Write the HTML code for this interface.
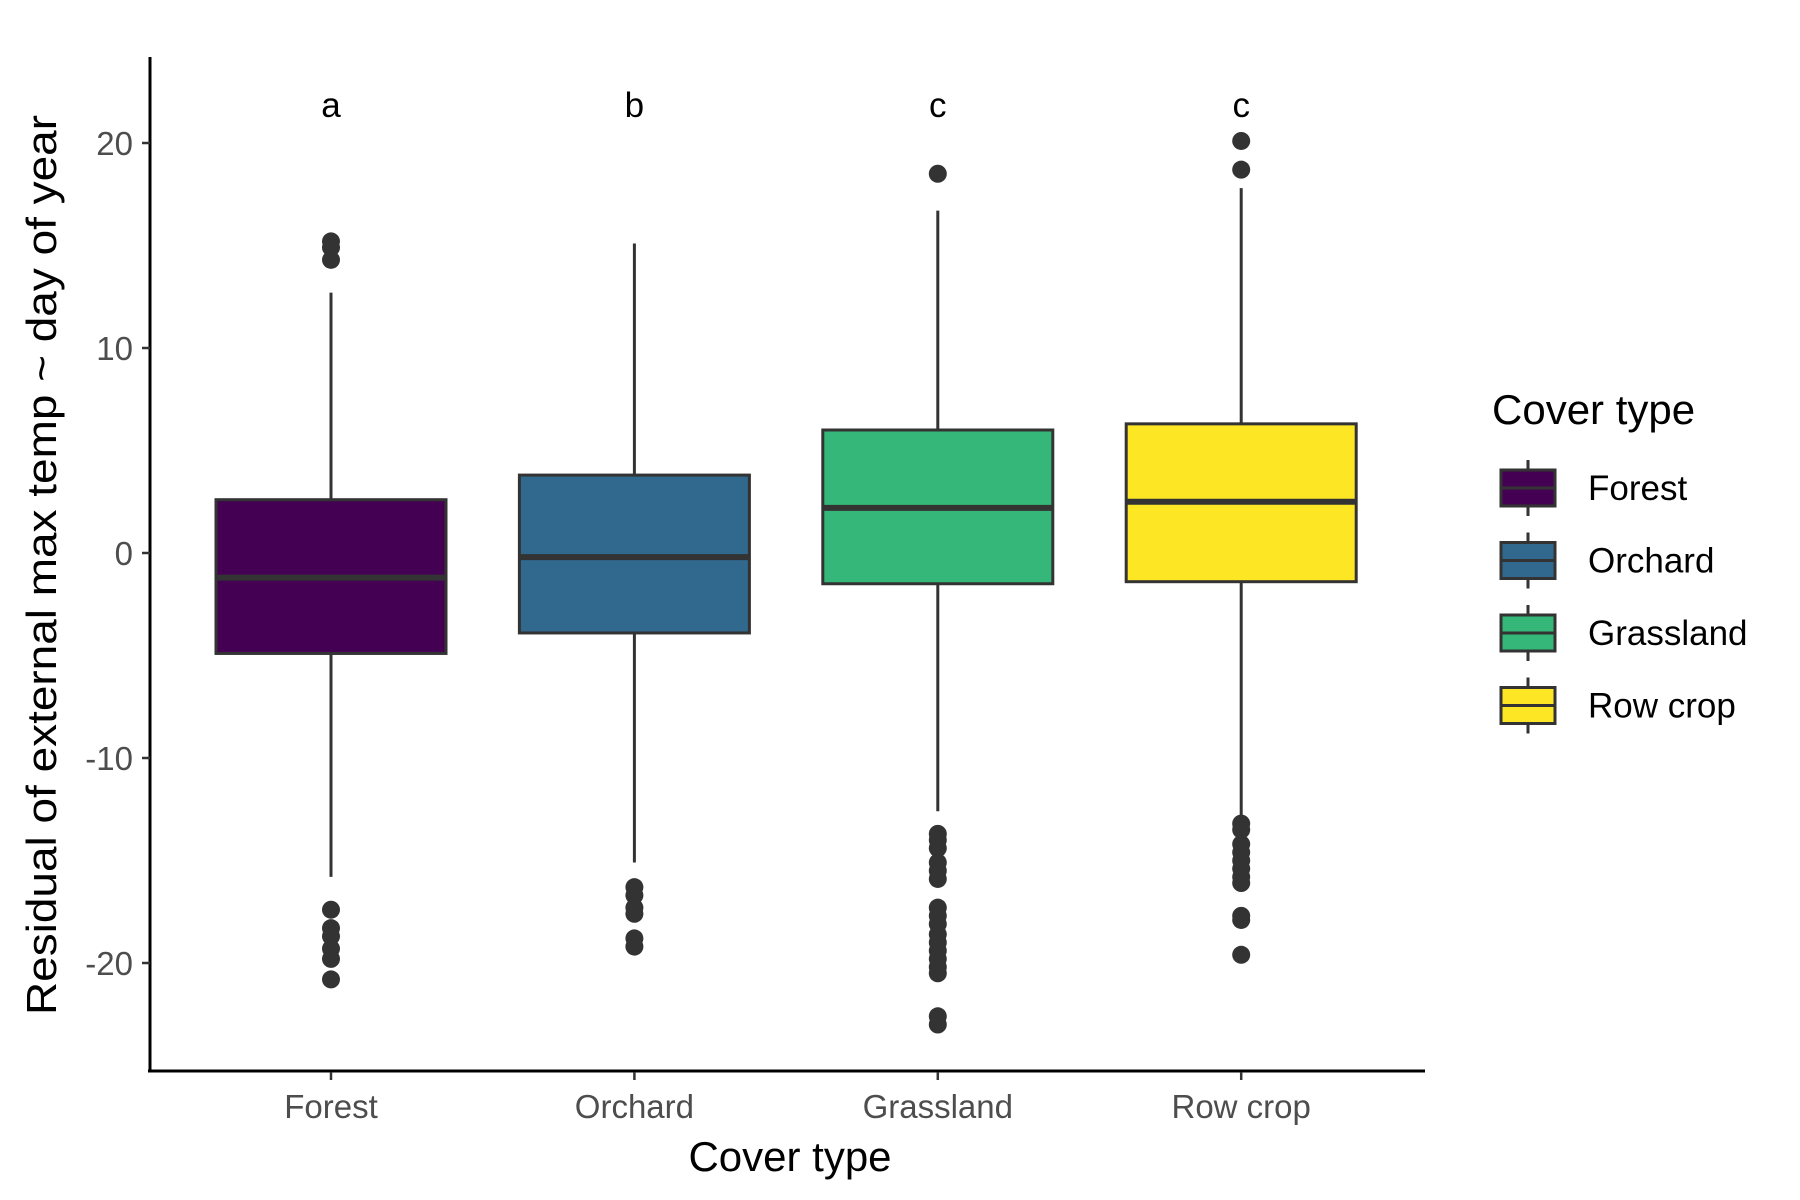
<!DOCTYPE html>
<html><head><meta charset="utf-8"><style>
body{margin:0;background:#fff}
svg{display:block;font-family:"Liberation Sans",Arial,sans-serif}
</style></head><body>
<svg id="chart" width="1800" height="1200" viewBox="0 0 1800 1200"></svg>
<script>
const categories=["Forest","Orchard","Grassland","Row crop"];
const colors=["#440154","#31688E","#35B779","#FDE725"];
const q1=[-4.9,-3.9,-1.5,-1.4];
const medians=[-1.2,-0.2,2.2,2.5];
const q3=[2.6,3.8,6.0,6.3];
const whiskerLow=[-15.8,-15.1,-12.6,-13.0];
const whiskerHigh=[12.7,15.1,16.7,17.8];
const outliers=[
 [14.3,14.9,15.2,-17.4,-18.3,-18.7,-19.3,-19.8,-20.8],
 [-16.3,-16.7,-17.3,-17.6,-18.8,-19.2],
 [18.5,-13.7,-14.0,-14.4,-15.1,-15.5,-15.9,-17.3,-17.7,-18.1,-18.6,-19.0,-19.4,-19.8,-20.2,-20.5,-22.6,-23.0],
 [20.1,18.7,-13.2,-13.5,-14.2,-14.6,-15.0,-15.4,-15.8,-16.1,-17.7,-17.9,-19.6]
];
const letters=["a","b","c","c"];
const yTicks=[-20,-10,0,10,20];

const svg=document.getElementById('chart');
const NS='http://www.w3.org/2000/svg';
function mk(tag,attrs,parent){const e=document.createElementNS(NS,tag);for(const k in attrs)e.setAttribute(k,attrs[k]);(parent||svg).appendChild(e);return e;}
const y=v=>553-v*20.5;
const x=i=>331+i*303.4;
const boxW=230;

const ax=mk('line',{x1:150,y1:57,x2:150,y2:1072,stroke:'#000','stroke-width':3});


const bx=mk('line',{x1:148,y1:1071,x2:1425,y2:1071,stroke:'#000','stroke-width':3});



yTicks.forEach(t=>{
 const l=mk('line',{x1:142,y1:y(t),x2:150,y2:y(t),stroke:'#333','stroke-width':2.5});
 
 
 const tx=mk('text',{x:133,y:y(t)+12,'text-anchor':'end','font-size':33,fill:'#4d4d4d'});
 tx.textContent=t;
 
 
});

categories.forEach((c,i)=>{
 const cx=x(i);
 const g=mk('g',{});
 
 
 mk('line',{x1:cx,y1:y(whiskerHigh[i]),x2:cx,y2:y(q3[i]),stroke:'#333','stroke-width':3},g);
 mk('line',{x1:cx,y1:y(q1[i]),x2:cx,y2:y(whiskerLow[i]),stroke:'#333','stroke-width':3},g);
 mk('rect',{x:cx-boxW/2,y:y(q3[i]),width:boxW,height:y(q1[i])-y(q3[i]),fill:colors[i],stroke:'#333','stroke-width':3},g);
 mk('line',{x1:cx-boxW/2,y1:y(medians[i]),x2:cx+boxW/2,y2:y(medians[i]),stroke:'#333','stroke-width':6},g);
 outliers[i].forEach(v=>{
  const p=mk('circle',{cx:cx,cy:y(v),r:9,fill:'#333'},g);
  
  
 });
 const tk=mk('line',{x1:cx,y1:1072,x2:cx,y2:1080,stroke:'#333','stroke-width':2.5});
 
 
 const tl=mk('text',{x:cx,y:1118,'text-anchor':'middle','font-size':33,fill:'#4d4d4d'});
 tl.textContent=c;
 
 
 const lt=mk('text',{x:cx,y:117,'text-anchor':'middle','font-size':35,fill:'#000'});
 lt.textContent=letters[i];
 
 
 const ky=488+i*72.5;
 const lg=mk('g',{});
 
 
 mk('line',{x1:1528,y1:ky-28,x2:1528,y2:ky+28,stroke:'#333','stroke-width':3},lg);
 mk('rect',{x:1501,y:ky-18,width:54,height:36,fill:colors[i],stroke:'#333','stroke-width':3},lg);
 mk('line',{x1:1501,y1:ky,x2:1555,y2:ky,stroke:'#333','stroke-width':3},lg);
 const lx=mk('text',{x:1588,y:ky+12,'font-size':35,fill:'#000'},lg);
 lx.textContent=c;
});

const xt=mk('text',{x:790,y:1171,'text-anchor':'middle','font-size':42,fill:'#000'});
xt.textContent='Cover type';


const yt=mk('text',{x:0,y:0,'text-anchor':'middle','font-size':42,fill:'#000',textLength:900,lengthAdjust:'spacingAndGlyphs',transform:'translate(56,565) rotate(-90)'});
yt.textContent='Residual of external max temp ~ day of year';


const lt=mk('text',{x:1492,y:424,'font-size':42,fill:'#000'});
lt.textContent='Cover type';


</script>
</body></html>
